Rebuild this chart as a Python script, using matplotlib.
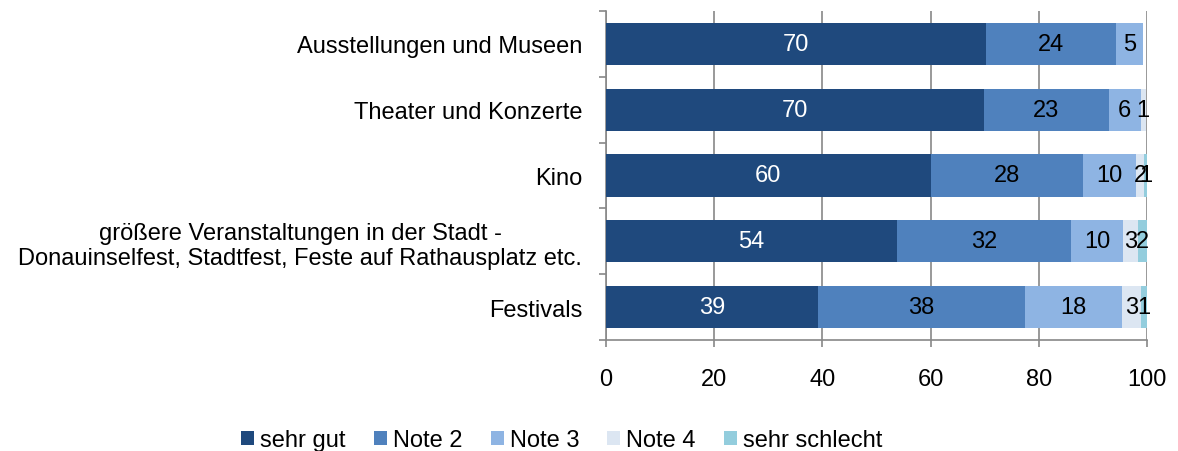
import matplotlib

matplotlib.use("Agg")
import matplotlib.pyplot as plt
import numpy as np

plt.rcParams["font.family"] = ["Liberation Sans", "DejaVu Sans"]

categories = [
    "Ausstellungen und Museen",
    "Theater und Konzerte",
    "Kino",
    "größere Veranstaltungen in der Stadt -\nDonauinselfest, Stadtfest, Feste auf Rathausplatz etc.",
    "Festivals",
]
series_names = ["sehr gut", "Note 2", "Note 3", "Note 4", "sehr schlecht"]
sehr_gut = [70.2, 69.8, 60.0, 53.8, 39.2]
note_2 = [24.1, 23.1, 28.1, 32.2, 38.3]
note_3 = [5.0, 5.9, 9.8, 9.6, 17.9]
note_4 = [0.0, 1.0, 1.6, 2.8, 3.4]
sehr_schlecht = [0.0, 0.0, 0.7, 1.6, 1.2]

colors = ["#1F497D", "#4F81BD", "#8EB4E3", "#DCE6F2", "#93CDDD"]
label_colors = ["white", "black", "black", "black", "black"]

fig = plt.figure(figsize=(11.78, 4.52), dpi=100)
ax = fig.add_axes([0.5144, 0.2456, 0.4593, 0.728])

y = np.arange(len(categories))
left = np.zeros(len(categories))
for name, vals, col, lc in zip(
    series_names, [sehr_gut, note_2, note_3, note_4, sehr_schlecht], colors, label_colors
):
    vals = np.array(vals)
    ax.barh(y, vals, left=left, height=0.64, color=col, label=name, zorder=3)
    for yi, (l, v) in enumerate(zip(left, vals)):
        if v > 0:
            ax.text(l + v / 2, yi, f"{v:.0f}", ha="center", va="center",
                    color=lc, fontsize=17, zorder=4)
    left += vals

ax.set_xlim(0, 100)
ax.set_ylim(len(categories) - 0.5, -0.5)
ax.set_xticks(np.arange(0, 101, 20))
ax.set_yticks(y)
ax.set_yticklabels(categories, fontsize=17)
ax.set_yticks(np.arange(-0.5, len(categories), 1), minor=True)
ax.tick_params(axis="y", which="major", length=0, pad=17)
ax.tick_params(axis="y", which="minor", length=5, color="#888888", width=1.2)
ax.tick_params(axis="x", length=5, color="#888888", width=1.2, labelsize=17, pad=15)
for lab in ax.get_yticklabels():
    lab.set_multialignment("center")

ax.grid(axis="x", color="#888888", linewidth=1.2, zorder=0)
for s in ["top", "right"]:
    ax.spines[s].set_visible(False)
for s in ["left", "bottom"]:
    ax.spines[s].set_color("#888888")
    ax.spines[s].set_linewidth(1.2)

fig.legend(
    *ax.get_legend_handles_labels(),
    loc="lower center",
    bbox_to_anchor=(0.477, -0.048),
    ncol=5,
    frameon=False,
    fontsize=17,
    handlelength=0.55,
    handleheight=0.55,
    handletextpad=0.25,
    columnspacing=1.2,
)

fig.savefig("out.png", dpi=100, facecolor="white")
